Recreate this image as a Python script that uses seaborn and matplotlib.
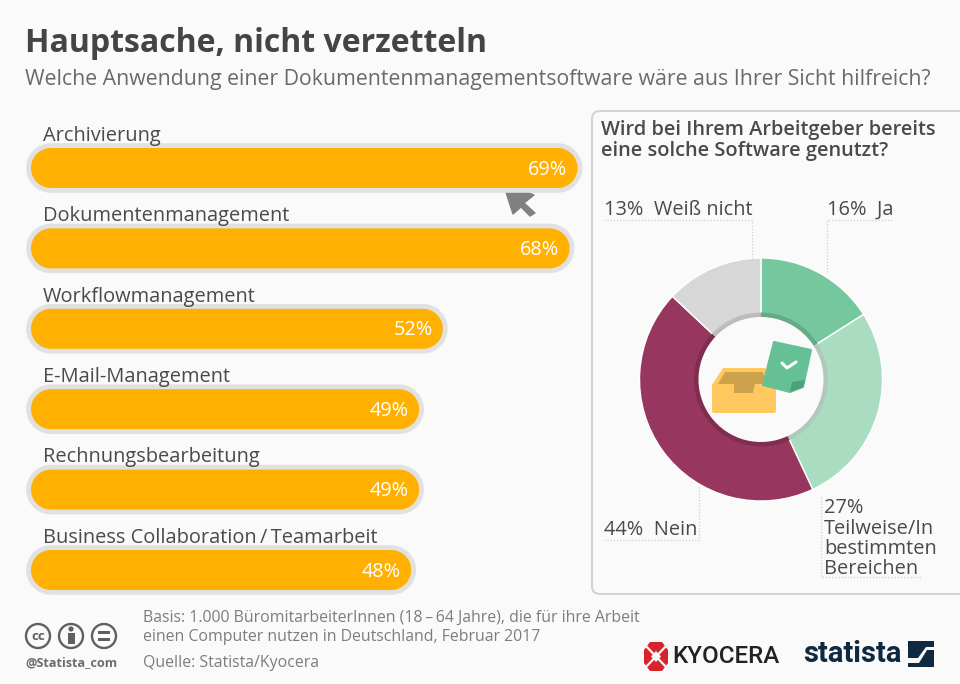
import matplotlib
matplotlib.use('Agg')
import matplotlib.pyplot as plt
import seaborn as sns
import numpy as np
import pandas as pd
from matplotlib.patches import FancyBboxPatch, Polygon, Circle, Rectangle

categories = ['Archivierung', 'Dokumentenmanagement', 'Workflowmanagement',
              'E-Mail-Management', 'Rechnungsbearbeitung',
              'Business Collaboration\u2009/\u2009Teamarbeit']
shares = [69, 68, 52, 49, 49, 48]

answers = ['Ja', 'Teilweise/In bestimmten Bereichen', 'Nein', 'Weiß nicht']
answer_shares = [16, 27, 44, 13]
answer_colors = ['#75c79d', '#a9dcc0', '#97375f', '#d7d7d7']
answer_inner = ['#66ab88', '#b0c9bb', '#7f2e50', '#bcbcbc']

BG = '#fafafa'
TXT = '#4a4a4a'
ORANGE = '#ffb000'

sns.set_theme(style='white')
plt.rcParams['font.family'] = ['Open Sans', 'DejaVu Sans']

W, H = 960, 684
fig = plt.figure(figsize=(9.6, 6.84), dpi=100, facecolor=BG)


def px_axes(x0, y0, x1, y1):
    # box in picture pixels, y from the top
    return fig.add_axes([x0 / W, 1 - y1 / H, (x1 - x0) / W, (y1 - y0) / H])


# overlay in pixels for furniture (panel, icons, logos)
bg = px_axes(0, 0, W, H)
bg.set_xlim(0, W)
bg.set_ylim(H, 0)
bg.axis('off')

bg.add_patch(FancyBboxPatch((592, 111), 400, 483, boxstyle='round,pad=0,rounding_size=8',
                            fc=BG, ec='#d4d4d4', lw=1.5))
bg.text(25, 43, 'Hauptsache, nicht verzetteln', fontsize=23.0, fontweight='bold',
        color='#444444', va='center')
bg.text(25, 79, 'Welche Anwendung einer Dokumentenmanagementsoftware wäre aus Ihrer Sicht hilfreich?',
        fontsize=15.34, color='#6a6a6a', va='center')

# bars
PX_PER_PCT = 7.92
SLOT = 80.4
BAR_PX = 40
ax = px_axes(31, 168 - SLOT / 2, 31 + 70.5 * PX_PER_PCT, 570 + SLOT / 2)
ax.patch.set_alpha(0)
df = pd.DataFrame({'category': categories, 'share': shares})
sns.barplot(data=df, y='category', x='share', color=ORANGE, saturation=1, width=BAR_PX / SLOT, ax=ax)
ax.set_xlim(0, 70.5)
ax.set_ylim(5.5, -0.5)
ax.axis('off')


def pill(bar, pad_px=0):
    # rounded outline around a seaborn bar, keeps its data extent
    half = BAR_PX / 2
    r = half + pad_px
    t = np.linspace(-np.pi / 2, np.pi / 2, 48)
    yc = bar.get_y() + bar.get_height() / 2
    right = bar.get_x() + bar.get_width() - half / PX_PER_PCT + r * np.cos(t) / PX_PER_PCT
    left = bar.get_x() + half / PX_PER_PCT - r * np.cos(t) / PX_PER_PCT
    ys = yc + r * np.sin(t) / SLOT
    return np.vstack([np.column_stack([right, ys]), np.column_stack([left[::-1], ys[::-1]])])


for i, (bar, name, val) in enumerate(zip(ax.patches, categories, shares)):
    ax.add_patch(Polygon(pill(bar, 4.8), fc='#e1e1e1', ec='none', clip_on=False, zorder=1))
    # the square seaborn bar is replaced by its rounded outline
    ax.add_patch(Polygon(pill(bar), fc=ORANGE, ec='none', clip_on=False, zorder=2))
    bar.set_visible(False)
    ax.text(val - 1.3, i + 0.02, f'{val}%', color='white', fontsize=14.3, ha='right', va='center', zorder=3)
    ax.text(1.5, i - 0.40, name, color=TXT, fontsize=14.4, ha='left', va='center', zorder=3)

# cursor
bg.add_patch(Polygon([(503, 183), (534, 195), (524, 203), (535, 213), (530, 216), (521, 207), (513, 214)],
                     fc='#808080', ec='#808080', lw=1, joinstyle='round', zorder=5))

# donut
R_OUT, R_IN, R_SHADE = 121.5, 62.5, 67
cx, cy = 761, 379.5
pie = px_axes(cx - R_OUT, cy - R_OUT, cx + R_OUT, cy + R_OUT)
pie.pie(answer_shares, colors=answer_colors, startangle=90, counterclock=False, radius=1,
        wedgeprops=dict(width=1 - R_IN / R_OUT, ec='white', lw=1))
pie.pie(answer_shares, colors=answer_inner, startangle=90, counterclock=False, radius=R_SHADE / R_OUT,
        wedgeprops=dict(width=(R_SHADE - R_IN) / R_OUT, ec='none'))
pie.set_xlim(-1, 1)
pie.set_ylim(-1, 1)
pie.set_aspect('equal')
pie.patch.set_alpha(0)

# panel text
fg = px_axes(0, 0, W, H)
fg.set_xlim(0, W)
fg.set_ylim(H, 0)
fg.axis('off')
fg.patch.set_alpha(0)
fg.text(601, 130, 'Wird bei Ihrem Arbeitgeber bereits', fontsize=14.4, fontweight='semibold', color=TXT, va='center')
fg.text(601, 151, 'eine solche Software genutzt?', fontsize=14.4, fontweight='semibold', color=TXT, va='center')

lab = dict(fontsize=14.4, color=TXT, va='center')
fg.text(604, 210, f'{answer_shares[3]}%  {answers[3]}', **lab)
fg.text(827, 210, f'{answer_shares[0]}%  {answers[0]}', **lab)
fg.text(604, 530, f'{answer_shares[2]}%  {answers[2]}', **lab)
fg.text(824, 508, f'{answer_shares[1]}%', **lab)
fg.text(824, 529, 'Teilweise/In', **lab)
fg.text(824, 549, 'bestimmten', **lab)
fg.text(824, 569, 'Bereichen', **lab)
dots = dict(color='#cfcfcf', lw=0.9, ls=(0, (1, 1.5)))
fg.plot([604, 752, 752], [220, 220, 262], **dots)
fg.plot([892, 827, 827], [220, 220, 272], **dots)
fg.plot([604, 699, 699], [540, 540, 486], **dots)
fg.plot([821, 821, 921], [497, 577, 577], **dots)

# inbox icon
fg.add_patch(FancyBboxPatch((712, 384), 64, 29, boxstyle='round,pad=0,rounding_size=2', fc='#ffc95f', ec='none'))
fg.add_patch(Polygon([(712, 385), (723, 368), (765, 368), (776, 387)], fc='#ffc95f', ec='none'))
fg.add_patch(Polygon([(718, 384), (725, 372), (763, 372), (766, 384), (755, 384), (753, 393), (734, 393), (734, 384)],
                     fc='#cca24d', ec='none'))
# note icon
fg.add_patch(Polygon([(774, 342), (811, 350), (803, 387), (790, 392), (763, 385)],
                     fc='#66c096', ec='#66c096', lw=1.5, joinstyle='round'))
fg.add_patch(Polygon([(790, 392), (792, 382), (805, 380), (803, 387)], fc='#4f9f7a', ec='none'))
fg.plot([782, 787, 796], [363, 368, 362], color='white', lw=2.2, solid_capstyle='round')

# footer
foot = dict(fontsize=11.4, color='#7d7d7d', va='center')
fg.text(143, 618, 'Basis: 1.000 BüromitarbeiterInnen (18\u2009–\u200964 Jahre), die für ihre Arbeit', **foot)
fg.text(143, 637, 'einen Computer nutzen in Deutschland, Februar 2017', **foot)
fg.text(143, 663, 'Quelle: Statista/Kyocera', **foot)
fg.text(25, 663, '@Statista_com', fontsize=9.1, fontweight='bold', color='#6d6d6d', va='center')
for x in (38, 71, 104):
    fg.add_patch(Circle((x, 636), 12, fc='none', ec='#606060', lw=1.7))
fg.text(38, 636, 'cc', fontsize=9.5, fontweight='bold', color='#606060', ha='center', va='center')
fg.add_patch(Circle((71, 629), 2.6, fc='#606060', ec='none'))
fg.add_patch(Rectangle((67.5, 633), 7, 11, fc='#606060', ec='none'))
fg.add_patch(Rectangle((98, 631), 12, 3, fc='#606060', ec='none'))
fg.add_patch(Rectangle((98, 637.5), 12, 3, fc='#606060', ec='none'))

# logos
fg.add_patch(Polygon([(650, 642), (662, 642), (668, 650), (668, 663), (662, 671), (650, 671), (644, 663), (644, 650)],
                     fc='#d8232a', ec='none'))
fg.plot([644, 668], [644, 669], color=BG, lw=1.6)
fg.plot([644, 668], [669, 644], color=BG, lw=1.6)
fg.add_patch(Polygon([(656, 651), (661, 656.5), (656, 662), (651, 656.5)], fc=BG, ec='none'))
fg.text(672, 656.5, 'KYOCERA', fontsize=17.4, fontweight='medium', color='#222222', va='center', family='Roboto')
fg.text(803, 654, 'statista', fontsize=21, fontweight='bold', color='#0f2a40', va='center', family='Roboto')
fg.add_patch(Rectangle((908, 641), 26, 26, fc='#0f2a40', ec='none'))
fg.add_patch(Polygon([(908, 658), (918, 658), (926, 647), (934, 647), (934, 650), (927, 650), (919, 663), (908, 663)],
                     fc=BG, ec='none'))

fig.savefig('out.png', dpi=100, facecolor=BG)
